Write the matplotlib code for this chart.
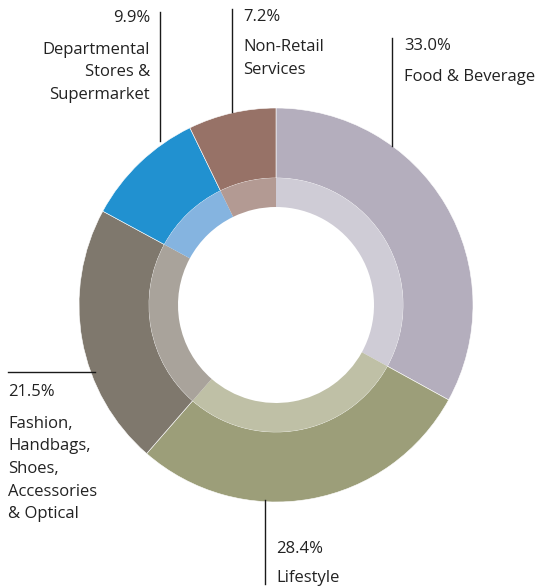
import matplotlib.pyplot as plt

plt.rcParams['font.family'] = ['Open Sans', 'DejaVu Sans']

# segments, clockwise from 12 o'clock
labels = ['Food & Beverage', 'Lifestyle',
          'Fashion,\nHandbags,\nShoes,\nAccessories\n& Optical',
          'Departmental\nStores &\nSupermarket', 'Non-Retail\nServices']
shares = [33.0, 28.4, 21.5, 9.9, 7.2]
outer_colors = ['#b4aebd', '#9c9e79', '#7f786d', '#2191d0', '#977267']
inner_colors = ['#cfccd6', '#bfc0a6', '#a9a39b', '#85b4e0', '#b39a93']

W, H = 544, 587
fig = plt.figure(figsize=(W / 100, H / 100), dpi=100)
ax = fig.add_axes([0, 0, 1, 1])

cx, cy = 276, H - 305

ax.pie(shares, colors=outer_colors, startangle=90, counterclock=False,
       center=(cx, cy), radius=197, frame=True,
       wedgeprops=dict(width=70, edgecolor='white', linewidth=0.4))
ax.pie(shares, colors=inner_colors, startangle=90, counterclock=False,
       center=(cx, cy), radius=127, frame=True,
       wedgeprops=dict(width=29, edgecolor='none'))
ax.set_xlim(0, W)
ax.set_ylim(0, H)
ax.set_aspect('equal')
ax.axis('off')

def y(p):
    return H - p

lc = '#1a1a1a'
tc = '#222222'
fs = 12.0
step = 22.5

def block(x, top, text, ha):
    for i, line in enumerate(text.split('\n')):
        ax.text(x, y(top + i * step), line, fontsize=fs, color=tc,
                va='center', ha=ha)

# leader lines
ax.plot([392, 392], [y(38), y(146)], color=lc, lw=1)       # food
ax.plot([265, 265], [y(500), y(584)], color=lc, lw=1)      # lifestyle
ax.plot([8, 95], [y(372), y(372)], color=lc, lw=1)         # fashion
ax.plot([160, 160], [y(12), y(141)], color=lc, lw=1)       # departmental
ax.plot([232, 232], [y(9), y(112)], color=lc, lw=1)        # non-retail

pct = ['%.1f%%' % v for v in shares]

# food & beverage
block(404, 46, pct[0], 'left')
block(404, 77, labels[0], 'left')
# lifestyle
block(276, 549, pct[1], 'left')
block(276, 578, labels[1], 'left')
# fashion
block(8, 392, pct[2], 'left')
block(8, 424, labels[2], 'left')
# departmental
block(150, 18, pct[3], 'right')
block(150, 50, labels[3], 'right')
# non-retail
block(243, 17, pct[4], 'left')
block(243, 47, labels[4], 'left')

fig.savefig('out.png', dpi=100)
